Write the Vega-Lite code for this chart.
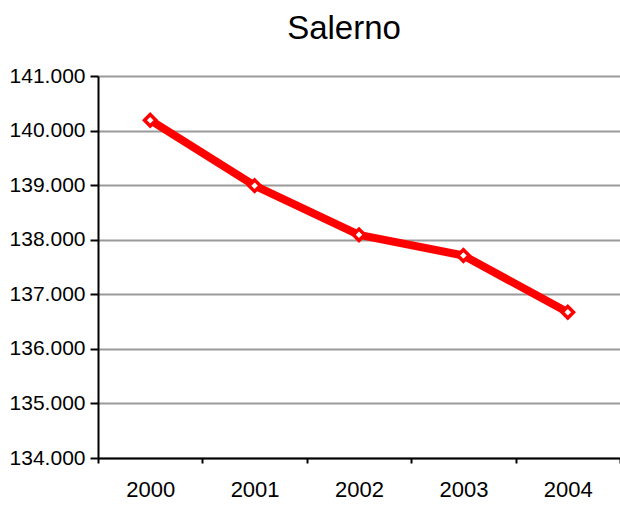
{
  "$schema": "https://vega.github.io/schema/vega-lite/v6.json",
  "autosize": "none",
  "width": 522,
  "height": 382,
  "padding": {"left": 98, "top": 76, "right": 0, "bottom": 48},
  "background": "white",
  "title": {
    "text": "Salerno",
    "font": "Liberation Sans",
    "fontSize": 33,
    "fontWeight": "normal",
    "color": "black",
    "anchor": "middle",
    "frame": "group",
    "dx": -15,
    "baseline": "alphabetic",
    "offset": -7
  },
  "data": {
    "values": [
      {"anno": "2000", "abitanti": 140190},
      {"anno": "2001", "abitanti": 138990},
      {"anno": "2002", "abitanti": 138090},
      {"anno": "2003", "abitanti": 137710},
      {"anno": "2004", "abitanti": 136670}
    ]
  },
  "encoding": {
    "x": {
      "field": "anno",
      "type": "ordinal",
      "scale": {"paddingInner": 0, "paddingOuter": 0},
      "axis": {
        "title": null,
        "labelAngle": 0,
        "labelFont": "Liberation Sans",
        "labelFontSize": 22,
        "labelColor": "black",
        "labelPadding": 16,
        "tickBand": "extent",
        "tickSize": 5,
        "tickWidth": 2,
        "tickColor": "black",
        "domainColor": "black",
        "domainWidth": 2,
        "grid": false
      }
    },
    "y": {
      "field": "abitanti",
      "type": "quantitative",
      "scale": {"domain": [134000, 141000], "nice": false, "zero": false},
      "axis": {
        "title": null,
        "values": [134000, 135000, 136000, 137000, 138000, 139000, 140000, 141000],
        "labelExpr": "replace(format(datum.value, ','), ',', '.')",
        "labelFont": "Liberation Sans",
        "labelFontSize": 21,
        "labelColor": "black",
        "labelPadding": 5,
        "tickSize": 8,
        "tickWidth": 2,
        "tickColor": "black",
        "domainColor": "black",
        "domainWidth": 2,
        "grid": true,
        "gridColor": "#9a9a9a",
        "gridWidth": 2
      }
    }
  },
  "layer": [
    {
      "mark": {"type": "line", "color": "#ff0000", "strokeWidth": 8, "strokeJoin": "round"}
    },
    {
      "mark": {
        "type": "point",
        "shape": "diamond",
        "filled": true,
        "fill": "white",
        "stroke": "#ff0000",
        "strokeWidth": 3.5,
        "size": 130,
        "opacity": 1
      }
    }
  ],
  "config": {
    "view": {"stroke": null}
  }
}
